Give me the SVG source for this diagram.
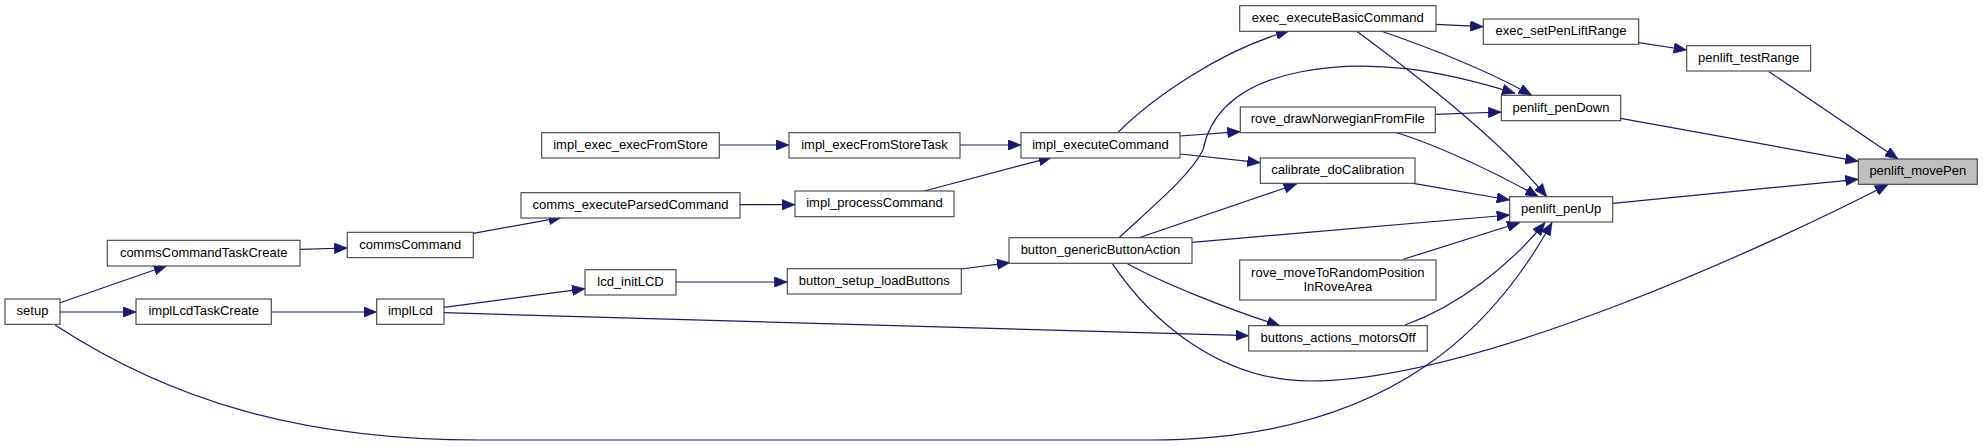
<svg xmlns="http://www.w3.org/2000/svg" width="1983" height="446" viewBox="0 0 1983 446">
<style>
.n rect{fill:#ffffff;stroke:#404040;stroke-width:1.1}
.n.hl rect{fill:#bfbfbf}
.n text{font-family:"Liberation Sans",Arial,sans-serif;font-size:13px;fill:#000;text-anchor:middle}
.e path{fill:none;stroke:#191970;stroke-width:1.2;marker-end:url(#ah)}
</style>
<defs>
<marker id="ah" markerUnits="userSpaceOnUse" viewBox="0 0 13 10.6" refX="13" refY="5.3" markerWidth="13" markerHeight="10.6" orient="auto">
<path d="M0,0 L13,5.3 L0,10.6 z" fill="#191970" stroke="#191970" stroke-width="0.6"/>
</marker>
</defs>
<rect width="1983" height="446" fill="#ffffff"/>
<g id="edges" class="e">
<path d="M60,302.7 L166.7,265.7"/>
<path d="M60,312 L136,312"/>
<path d="M300,249.3 L347.3,248"/>
<path d="M271.3,312 L376.7,312"/>
<path d="M55,325 C170,400 300,440 480,440 L1150,440 C1400,440 1500,316 1552,222.5"/>
<path d="M473.3,233.3 L561.7,217.3"/>
<path d="M444,307.3 L585,288.7"/>
<path d="M444,312.7 L1248.7,335.7"/>
<path d="M719.3,145 L789,145"/>
<path d="M740,204.7 L795,204.7"/>
<path d="M676,282 L787.3,282"/>
<path d="M960,145 L1021,145"/>
<path d="M924.3,191 L1051.7,157.3"/>
<path d="M961.3,269 L1010,262.7"/>
<path d="M1117.7,132.7 C1150,100 1220,50 1289,31"/>
<path d="M1180,136 L1240.3,131.7"/>
<path d="M1180,154 L1260.3,162.7"/>
<path d="M1119,237.7 C1160,200 1190,175 1203,150 C1210,115 1235,85 1300,72 C1370,58 1440,70 1515,93.3"/>
<path d="M1436,24.3 L1483.3,26.7"/>
<path d="M1381.7,31.3 C1430,48 1490,72 1531.7,95.3"/>
<path d="M1356.7,31.3 C1420,78 1500,140 1546.7,196.7"/>
<path d="M1435.3,114.3 L1501.3,112"/>
<path d="M1396.7,132.7 C1440,146 1500,175 1538.3,196.7"/>
<path d="M1413.3,183.3 L1509.7,200"/>
<path d="M1139,237.7 L1296.7,184"/>
<path d="M1192,242.3 L1509.7,215"/>
<path d="M1403.3,259.3 L1520,222.5"/>
<path d="M1405,325 C1460,305 1510,265 1545,222.5"/>
<path d="M1126.7,263.3 C1160,282 1230,310 1280,325.7"/>
<path d="M1112.3,263.3 C1150,320 1220,381 1310,381 C1480,381 1780,240 1888,184.5"/>
<path d="M1769,71.7 L1898,159"/>
<path d="M1638.7,42.7 L1686.7,50"/>
<path d="M1620.7,118.3 L1858.3,161.3"/>
<path d="M1612.7,203.3 L1858.3,179.3"/>
</g>
<g id="setup" class="n"><rect x="5" y="299" width="55" height="25.3"/><text x="32.5" y="315.3">setup</text></g>
<g id="commsCommandTaskCreate" class="n"><rect x="107.3" y="240.3" width="192.7" height="25.7"/><text x="203.7" y="256.6">commsCommandTaskCreate</text></g>
<g id="implLcdTaskCreate" class="n"><rect x="136" y="299" width="135.3" height="25.3"/><text x="203.7" y="315.3">implLcdTaskCreate</text></g>
<g id="commsCommand" class="n"><rect x="347.3" y="232.3" width="126" height="25.4"/><text x="410.3" y="248.6">commsCommand</text></g>
<g id="implLcd" class="n"><rect x="376.7" y="299" width="67.3" height="25.3"/><text x="410.3" y="315.3">implLcd</text></g>
<g id="impl_exec_execFromStore" class="n"><rect x="541.7" y="132.7" width="177.6" height="25.3"/><text x="630.5" y="149">impl_exec_execFromStore</text></g>
<g id="comms_executeParsedCommand" class="n"><rect x="521" y="192.7" width="219" height="25.3"/><text x="630.5" y="209">comms_executeParsedCommand</text></g>
<g id="lcd_initLCD" class="n"><rect x="585" y="269.7" width="91" height="25.3"/><text x="630.5" y="286">lcd_initLCD</text></g>
<g id="impl_execFromStoreTask" class="n"><rect x="789" y="132.7" width="171" height="25.3"/><text x="874.5" y="149">impl_execFromStoreTask</text></g>
<g id="impl_processCommand" class="n"><rect x="795" y="191" width="159" height="25.7"/><text x="874.5" y="207.3">impl_processCommand</text></g>
<g id="button_setup_loadButtons" class="n"><rect x="787.3" y="268.7" width="174" height="25.3"/><text x="874.3" y="285">button_setup_loadButtons</text></g>
<g id="impl_executeCommand" class="n"><rect x="1021" y="132.7" width="159" height="25.3"/><text x="1100.5" y="149">impl_executeCommand</text></g>
<g id="button_genericButtonAction" class="n"><rect x="1009" y="237.7" width="183" height="25.6"/><text x="1100.5" y="254">button_genericButtonAction</text></g>
<g id="exec_executeBasicCommand" class="n"><rect x="1239.7" y="5.7" width="196.3" height="25.6"/><text x="1337.8" y="22">exec_executeBasicCommand</text></g>
<g id="rove_drawNorwegianFromFile" class="n"><rect x="1240.3" y="107" width="195" height="25.7"/><text x="1337.8" y="123.3">rove_drawNorwegianFromFile</text></g>
<g id="calibrate_doCalibration" class="n"><rect x="1260.3" y="158" width="154.7" height="25.3"/><text x="1337.7" y="174.3">calibrate_doCalibration</text></g>
<g id="rove_moveToRandomPositionInRoveArea" class="n"><rect x="1239.7" y="260" width="196.3" height="40"/><text x="1337.8" y="276.7">rove_moveToRandomPosition</text><text x="1337.8" y="291.3">InRoveArea</text></g>
<g id="buttons_actions_motorsOff" class="n"><rect x="1248.7" y="325.7" width="178.6" height="25.3"/><text x="1338" y="342">buttons_actions_motorsOff</text></g>
<g id="exec_setPenLiftRange" class="n"><rect x="1483.3" y="19" width="155.4" height="25.3"/><text x="1561" y="35.3">exec_setPenLiftRange</text></g>
<g id="penlift_penDown" class="n"><rect x="1501.3" y="95.3" width="119.4" height="25.4"/><text x="1561" y="111.6">penlift_penDown</text></g>
<g id="penlift_penUp" class="n"><rect x="1509.7" y="196.7" width="103" height="25.3"/><text x="1561.2" y="213">penlift_penUp</text></g>
<g id="penlift_testRange" class="n"><rect x="1686.7" y="45.7" width="124" height="25.3"/><text x="1748.7" y="62">penlift_testRange</text></g>
<g id="penlift_movePen" class="n hl"><rect x="1858.3" y="159" width="119" height="25.3"/><text x="1917.8" y="175.3">penlift_movePen</text></g>
</svg>
